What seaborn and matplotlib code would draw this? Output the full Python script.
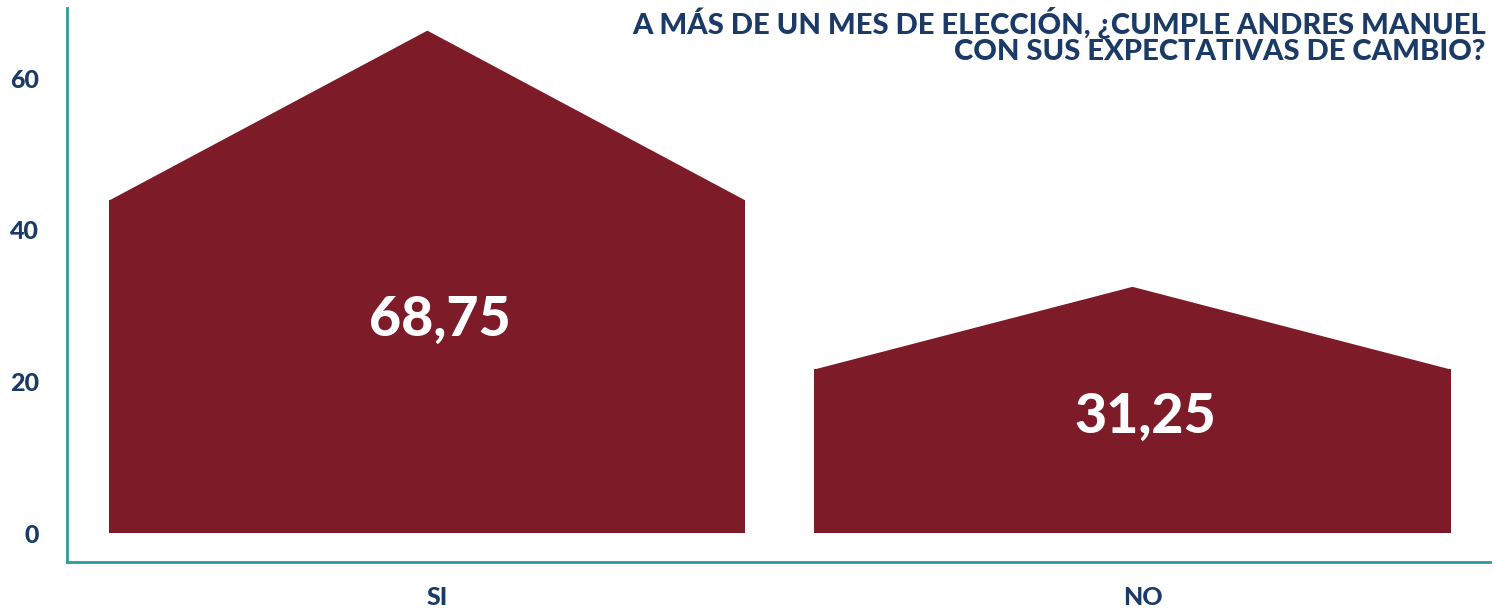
import seaborn as sns
import matplotlib.pyplot as plt
import matplotlib.transforms as mtransforms
import pandas as pd

### data
categories = ['SI', 'NO']
values = [68.75, 31.25]          # printed labels
roof_peak = [66.3, 32.5]         # drawn height of the roof tip
eaves = [43.9, 21.6]             # drawn height of the side walls
value_text = ['68,75', '31,25']
yticks = [0, 20, 40, 60]
title = 'A MÁS DE UN MES DE ELECCIÓN, ¿CUMPLE ANDRES MANUEL\nCON SUS EXPECTATIVAS DE CAMBIO?'

bar_color = '#7e1b28'
navy = '#1b3a66'
teal = '#2a9d98'

sns.set_theme(style='white')
plt.rcParams['font.family'] = ['Lato', 'DejaVu Sans']

df = pd.DataFrame({'cat': categories, 'eaves': eaves})

fig = plt.figure(figsize=(14.96, 6.08), dpi=100)
ax = fig.add_axes([0.0448, 0.0757, 0.9512, 0.9113])

sns.barplot(data=df, x='cat', y='eaves', color=bar_color, saturation=1,
            width=0.902, linewidth=0, ax=ax)

### roofs on top of each bar + value text
for i, p in enumerate(ax.patches):
    x0 = p.get_x()
    x1 = x0 + p.get_width()
    xm = x0 + p.get_width() / 2
    ax.fill([x0, xm, x1], [eaves[i], roof_peak[i], eaves[i]],
            color=bar_color, linewidth=0)
    ty = eaves[i] * (0.64 if i == 0 else 0.71)
    ax.text(xm + 0.018, ty, value_text[i], ha='center', va='center',
            color='white', fontsize=40, fontweight='black')

ax.set_xlim(-0.511, 1.507)
ax.set_ylim(-3.8, 69.3)
ax.set_yticks(yticks)
ax.set_yticklabels([str(t) for t in yticks])
ax.set_xlabel('')
ax.set_ylabel('')
ax.tick_params(axis='both', length=0, colors=navy)
ax.tick_params(axis='y', pad=20, labelsize=18)
ax.tick_params(axis='x', pad=17, labelsize=18)
shift = mtransforms.ScaledTranslation(10 / 100, 0, fig.dpi_scale_trans)
for lab in ax.get_xticklabels():
    lab.set_transform(lab.get_transform() + shift)
for lab in ax.get_xticklabels() + ax.get_yticklabels():
    lab.set_fontweight('black')
    lab.set_color(navy)

for s in ['top', 'right']:
    ax.spines[s].set_visible(False)
for s in ['left', 'bottom']:
    ax.spines[s].set_color(teal)
    ax.spines[s].set_linewidth(2)

fig.text(0.993, 0.988, title, ha='right', va='top', color=navy,
         fontsize=21, fontweight='black', linespacing=1.0)

plt.savefig('out.png', dpi=100)
